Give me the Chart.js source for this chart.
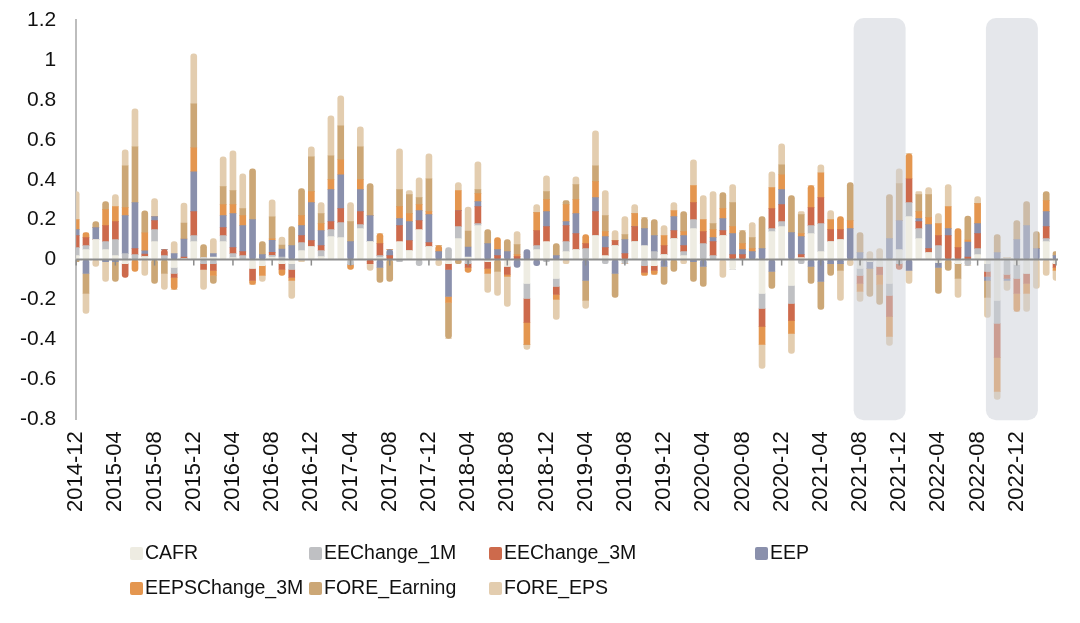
<!DOCTYPE html>
<html>
<head>
<meta charset="utf-8">
<script src="https://cdn.jsdelivr.net/npm/chart.js"></script>
<style>
  html, body { margin: 0; padding: 0; background: #fff; }
  #wrap { position: relative; width: 1080px; height: 623px; }
  #grafica { position: absolute; left: 0; top: 0; }
  .leyenda { position: absolute; font-family: "Liberation Sans", Arial, sans-serif; font-size: 19.5px; color: #111; white-space: nowrap; line-height: 20px; }
  .leyenda span.caja { display: inline-block; width: 13px; height: 13px; border-radius: 2px; margin-right: 2px; vertical-align: -1px; }
</style>
</head>
<body>
<div id="wrap">
  <canvas id="grafica" width="1080" height="623"></canvas>
  <div id="leyenda"></div>
</div>
<script>
const meses = [
  '2014-12',
  '2015-01','2015-02','2015-03','2015-04','2015-05','2015-06','2015-07','2015-08','2015-09','2015-10','2015-11','2015-12',
  '2016-01','2016-02','2016-03','2016-04','2016-05','2016-06','2016-07','2016-08','2016-09','2016-10','2016-11','2016-12',
  '2017-01','2017-02','2017-03','2017-04','2017-05','2017-06','2017-07','2017-08','2017-09','2017-10','2017-11','2017-12',
  '2018-01','2018-02','2018-03','2018-04','2018-05','2018-06','2018-07','2018-08','2018-09','2018-10','2018-11','2018-12',
  '2019-01','2019-02','2019-03','2019-04','2019-05','2019-06','2019-07','2019-08','2019-09','2019-10','2019-11','2019-12',
  '2020-01','2020-02','2020-03','2020-04','2020-05','2020-06','2020-07','2020-08','2020-09','2020-10','2020-11','2020-12',
  '2021-01','2021-02','2021-03','2021-04','2021-05','2021-06','2021-07','2021-08','2021-09','2021-10','2021-11','2021-12',
  '2022-01','2022-02','2022-03','2022-04','2022-05','2022-06','2022-07','2022-08','2022-09','2022-10','2022-11','2022-12',
  '2023-01','2023-02','2023-03','2023-04'
];

const CAFR = [
  .02,.05,.10,.05,.02,-.02,0,.015,.09,0,
  -.04,.005,.09,.01,.013,.09,.01,0,-.045,-.03,
  .013,-.02,-.02,.045,.065,.015,.115,.11,0,.155,
  .09,.01,0,.09,.045,.15,.065,0,-.02,.105,
  .013,.17,-.01,0,-.035,0,-.12,.05,.09,-.095,
  .04,.05,0,.12,.02,.07,0,.09,.07,-.03,
  .025,.105,.02,.155,0,0,.12,-.05,0,0,
  -.17,.14,.165,-.13,.01,.13,.04,.09,.10,0,
  -.045,-.01,-.035,-.12,.05,.215,.105,.035,-.015,0,
  -.02,0,.025,-.02,-.205,.01,-.025,-.07,0,.09,-.02
];
const EEChange_1M = [
  .04,.02,0,.04,.08,.03,.025,0,.06,.02,
  -.03,0,.03,-.02,-.02,.03,.02,.02,0,0,
  .008,.013,-.03,.04,0,.03,.035,.075,-.025,.02,
  0,.01,0,-.01,0,-.03,0,0,.06,.06,
  -.02,.01,0,0,0,0,-.075,.02,-.01,-.04,
  .05,0,.055,0,-.02,0,-.02,0,-.03,.04,
  0,0,.02,.045,.08,.02,0,0,0,0,
  -.075,.015,.025,-.09,-.02,.04,.14,0,0,0,
  -.035,0,0,-.06,-.02,.07,.05,0,.07,0,
  0,-.03,.03,-.04,-.115,-.075,-.07,0,0,.015,0
];
const EEChange_3M = [
  .06,.04,0,.08,.09,-.07,.03,.012,.045,.03,
  -.02,.008,.12,-.03,-.035,.04,.03,.02,-.06,0,
  .015,-.03,-.04,.035,.03,.025,.04,.07,0,.065,
  -.02,.06,.02,.08,.05,.045,.02,0,-.03,.08,
  -.02,.085,-.035,.02,-.04,.015,-.12,.075,.075,-.04,
  .08,.08,.025,.12,.04,.025,.03,.075,-.035,-.025,
  .045,.04,.03,.085,.06,.07,.025,.025,.025,0,
  -.09,.10,.085,-.085,.015,.09,.13,.06,.05,0,
  -.04,0,-.04,-.105,-.03,.12,.035,.02,.05,.12,
  .06,.013,.075,-.025,-.17,-.02,-.075,-.05,0,.06,-.02
];
const EEP = [
  .03,-.07,.06,-.01,-.01,.19,.23,.017,.02,0,
  .03,.09,.20,0,.017,.06,.17,.13,.20,.025,
  .06,.04,.07,.05,.19,.075,.16,.17,.09,.11,
  .13,-.04,.03,.035,.095,.05,.14,.04,-.135,0,
  .05,.025,.08,.03,.04,-.04,.05,-.03,.075,.02,
  .02,.10,-.105,.07,.055,-.07,.07,0,.085,.08,
  -.035,.07,.05,-.01,-.035,.02,.06,.105,.025,.04,
  .055,-.06,.075,.135,.09,-.035,-.11,-.02,-.02,.155,
  .035,-.035,0,.105,.145,-.055,.015,.12,-.025,.035,
  0,.075,.05,-.02,.035,-.01,.10,.17,.055,.075,.02
];
const EEPSChange_3M = [
  .05,.025,0,.08,.075,.04,-.06,.09,0,0,
  -.06,0,.12,0,-.025,.055,.045,.05,-.02,-.05,
  .008,-.03,-.015,.05,.055,.035,.05,.075,-.025,.05,
  0,.05,0,.06,.04,.03,.015,.03,-.03,.10,
  -.025,.04,-.025,.06,-.01,.01,-.11,.09,.06,-.025,
  .085,.07,.045,.08,.025,0,0,.065,-.015,-.02,
  .05,.03,.02,.085,.06,.04,.05,.035,.03,.015,
  -.09,.105,.075,-.065,.015,.11,.125,.05,.065,.04,
  -.04,0,-.05,-.10,0,.125,.035,.035,.06,.11,
  .095,.01,.10,0,-.17,0,-.09,-.05,0,.055,-.015
];
const FORE_Earning = [
  -.01,-.10,.03,.04,-.10,.21,.28,.11,-.12,-.07,
  0,.08,.22,.065,-.04,.09,.07,.035,.255,.065,
  .11,.02,.095,.135,.175,.05,.12,.17,.10,.165,
  .16,-.075,-.11,.085,.095,.035,.165,0,-.18,-.02,
  .08,.02,.07,-.06,.06,.05,0,0,.04,.06,
  .02,.075,-.10,.08,.08,-.12,.025,0,.055,.08,
  -.09,-.06,.10,-.10,-.10,.03,.08,.12,.065,.055,
  .16,-.085,.05,.185,.095,-.085,-.14,-.06,-.035,.19,
  .10,-.14,-.10,.22,.185,0,.085,.115,-.13,-.055,
  -.075,.12,0,-.085,.09,0,.095,.12,.085,.045,.02
];
const FORE_EPS = [
  .14,-.10,-.035,-.10,.06,.08,.19,-.08,.09,-.08,
  .06,.10,.25,-.10,.075,.15,.20,.175,0,-.03,
  .085,.04,-.09,-.01,.05,.055,.20,.15,.095,.10,
  -.035,0,0,.205,.02,.10,.125,-.03,0,.04,
  .12,.14,-.095,-.12,-.15,.065,-.025,.04,.08,-.10,
  -.02,.04,-.04,.175,.125,.05,.09,.045,0,0,
  .05,.04,-.02,.13,.12,.16,-.09,.09,0,.075,
  -.12,.08,.105,-.10,.015,0,.04,.045,-.15,-.03,
  -.05,.04,.055,-.045,.075,-.065,.015,.035,.05,.11,
  -.095,0,.035,-.10,-.04,-.05,0,-.09,-.145,-.08,-.05
];

const nombres = ['CAFR', 'EEChange_1M', 'EEChange_3M', 'EEP', 'EEPSChange_3M', 'FORE_Earning', 'FORE_EPS'];
const series = [CAFR, EEChange_1M, EEChange_3M, EEP, EEPSChange_3M, FORE_Earning, FORE_EPS];
const colores = ['#EEECE2', '#BFC0C3', '#CD6A4C', '#8A90AC', '#E4964F', '#CCA776', '#E3CDAF'];

// periodos sombreados
const sombras = [['2021-08', '2021-12'], ['2022-09', '2023-02']];

// solo redondear los extremos de cada pila (como capsula)
function bordeSaltado(ctx) {
  const i = ctx.dataIndex, d = ctx.datasetIndex;
  const v = series[d][i];
  if (!v) return true;
  const signo = v > 0;
  let interior = true, exterior = true;
  series.forEach((s, k) => {
    if (!s[i] || (s[i] > 0) !== signo) return;
    if (k < d) interior = false;
    if (k > d) exterior = false;
  });
  if (interior && exterior) return false;
  if (exterior) return 'start';
  if (interior) return 'end';
  return true;
}

const extras = {
  id: 'extras',
  afterDatasetsDraw(chart) {
    const { ctx, chartArea, scales } = chart;
    const x = scales.x, y = scales.y;
    const paso = x.getPixelForValue(1) - x.getPixelForValue(0);
    ctx.save();
    // zonas grises encima de las barras (mismo ancho, centradas en el periodo)
    ctx.fillStyle = 'rgba(204, 207, 215, 0.5)';
    sombras.forEach(([a, b]) => {
      const centro = (x.getPixelForValue(meses.indexOf(a)) + x.getPixelForValue(meses.indexOf(b))) / 2;
      const ancho = paso * 5.3;
      ctx.beginPath();
      ctx.roundRect(centro - ancho / 2, chartArea.top - 2, ancho, chartArea.bottom - chartArea.top + 3, 10);
      ctx.fill();
    });
    // linea del cero y marcas
    const y0 = y.getPixelForValue(0);
    ctx.strokeStyle = '#8C8C8C';
    ctx.lineWidth = 2;
    ctx.beginPath();
    ctx.moveTo(chartArea.left, y0);
    ctx.lineTo(chartArea.right + 2, y0);
    ctx.stroke();
    ctx.lineWidth = 1.5;
    meses.forEach((m, i) => {
      if (i % 4 !== 0) return;
      const xp = x.getPixelForValue(i);
      ctx.beginPath();
      ctx.moveTo(xp, y0);
      ctx.lineTo(xp, y0 + 6);
      ctx.stroke();
    });
    ctx.restore();
  }
};

const grafica = new Chart(document.getElementById('grafica'), {
  type: 'bar',
  data: {
    labels: meses,
    datasets: series.map((s, k) => ({
      label: nombres[k],
      data: s,
      backgroundColor: colores[k],
      borderWidth: 0,
      borderRadius: { topLeft: 3, topRight: 3, bottomLeft: 3, bottomRight: 3 },
      borderSkipped: bordeSaltado,
      barThickness: 6
    }))
  },
  options: {
    responsive: false,
    animation: false,
    layout: { padding: { left: 0, right: 24, top: 20, bottom: 99 } },
    plugins: {
      legend: { display: false },
      tooltip: { enabled: false }
    },
    scales: {
      x: {
        stacked: true,
        offset: false,
        grid: { display: false, drawTicks: false },
        border: { display: false },
        afterFit: s => { s.paddingLeft = 0; s.paddingRight = 0; },
        ticks: {
          autoSkip: false,
          minRotation: 90,
          maxRotation: 90,
          padding: 12,
          color: '#111',
          font: { family: 'Liberation Sans', size: 22 },
          callback: (v, i) => (i % 4 === 0 && i < meses.length - 1 ? meses[i] : '')
        }
      },
      y: {
        stacked: true,
        min: -0.8,
        max: 1.2,
        grid: { display: false, drawTicks: false },
        border: { display: true, color: '#BDBDBD', width: 2 },
        afterFit: s => { s.paddingTop = 0; s.paddingBottom = 0; },
        ticks: {
          stepSize: 0.2,
          padding: 20,
          color: '#111',
          font: { family: 'Liberation Sans', size: 21 },
          callback: v => String(Math.round(v * 10) / 10)
        }
      }
    }
  },
  plugins: [extras]
});

// leyenda en columnas como en el original
const posLeyenda = [[130, 542], [309, 542], [489, 542], [755, 542], [130, 577], [309, 577], [489, 577]];
const cont = document.getElementById('leyenda');
nombres.forEach((n, k) => {
  const el = document.createElement('div');
  el.className = 'leyenda';
  el.style.left = posLeyenda[k][0] + 'px';
  el.style.top = posLeyenda[k][1] + 'px';
  el.innerHTML = '<span class="caja" style="background:' + colores[k] + '"></span>' + n;
  cont.appendChild(el);
});
</script>
</body>
</html>
